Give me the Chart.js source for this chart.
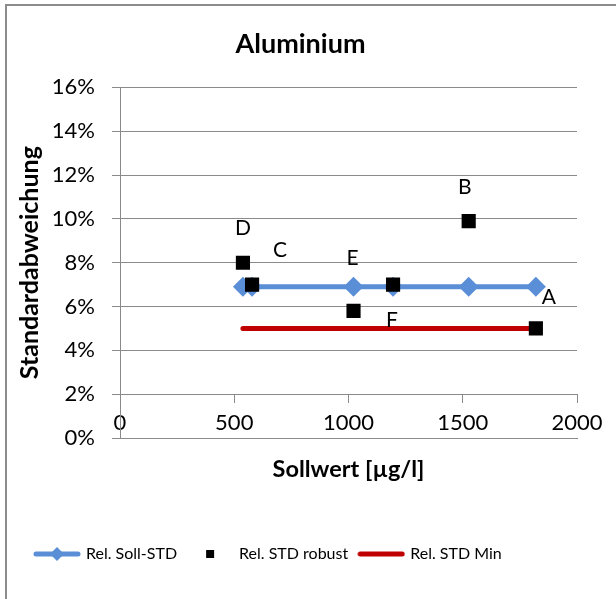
<!DOCTYPE html>
<html>
<head>
<meta charset="utf-8">
<script src="https://cdn.jsdelivr.net/npm/chart.js@4/dist/chart.umd.min.js"></script>
<style>
  body { margin: 0; background: #fff; }
  #wrap { position: relative; width: 616px; height: 599px; }
  #frame { position: absolute; left: 5px; top: 4px; width: 700px; height: 700px;
           border-left: 2px solid #8c8c8c; border-top: 2px solid #8c8c8c; pointer-events: none; }
</style>
</head>
<body>
<div id="wrap">
  <canvas id="chart" width="616" height="599"></canvas>
  <div id="frame"></div>
</div>
<script>
// values
const sollwert = [538, 578, 1022, 1195, 1526, 1820];           // x, µg/l
const relSollStd = [0.069, 0.069, 0.069, 0.069, 0.069, 0.069];
const relStdRobust = [0.080, 0.070, 0.058, 0.070, 0.099, 0.050];
const relStdMin = [0.05, 0.05, 0.05, 0.05, 0.05, 0.05];
const pointLabels = ['D', 'C', 'E', 'F', 'B', 'A'];
const xTicks = [0, 500, 1000, 1500, 2000];
const xTickLabels = ['0', '500', '1000', '1500', '2000'];
const yTicks = [0, 0.02, 0.04, 0.06, 0.08, 0.10, 0.12, 0.14, 0.16];
const yTickLabels = ['0%', '2%', '4%', '6%', '8%', '10%', '12%', '14%', '16%'];

const BLUE = '#5a8ed6';
const RED = '#c00000';
const GRID = '#8a8a8a';
const FONT = 'Lato, "Open Sans", sans-serif';

// pixel nudges of the letter labels (they were dragged around in the original)
const labelOffsets = [[0, -34], [28, -34], [-1, -53], [-1, 36], [-4, -34], [13, -31]];

function toXY(ys) {
    return sollwert.map((x, i) => ({ x: x, y: ys[i] }));
}

// legend icons
function makeIcon(kind) {
    const c = document.createElement('canvas');
    c.width = 48; c.height = 20;
    const g = c.getContext('2d');
    if (kind === 'soll') {
        g.strokeStyle = BLUE; g.lineWidth = 5; g.lineCap = 'round';
        g.beginPath(); g.moveTo(3, 10); g.lineTo(45, 10); g.stroke();
        g.fillStyle = BLUE;
        g.beginPath(); g.moveTo(24, 3); g.lineTo(31, 10); g.lineTo(24, 17); g.lineTo(17, 10); g.closePath(); g.fill();
    } else if (kind === 'robust') {
        g.fillStyle = '#000';
        g.fillRect(20, 6, 8, 8);
    } else {
        g.strokeStyle = RED; g.lineWidth = 5; g.lineCap = 'round';
        g.beginPath(); g.moveTo(3, 10); g.lineTo(45, 10); g.stroke();
    }
    return c;
}
const icons = [makeIcon('soll'), makeIcon('robust'), makeIcon('min')];

const letterPlugin = {
    id: 'letters',
    afterDatasetsDraw(chart) {
        const meta = chart.getDatasetMeta(1);
        const ctx = chart.ctx;
        ctx.save();
        ctx.font = '21px ' + FONT;
        ctx.fillStyle = '#000';
        ctx.textAlign = 'center';
        ctx.textBaseline = 'middle';
        meta.data.forEach((pt, i) => {
            ctx.fillText(pointLabels[i], pt.x + labelOffsets[i][0], pt.y + labelOffsets[i][1]);
        });
        ctx.restore();
    }
};

new Chart(document.getElementById('chart'), {
    type: 'scatter',
    data: {
        datasets: [{
            label: 'Rel. Soll-STD',
            data: toXY(relSollStd),
            showLine: true,
            borderColor: BLUE,
            backgroundColor: BLUE,
            borderWidth: 5,
            borderCapStyle: 'round',
            pointStyle: 'rectRot',
            pointRadius: 10,
            pointBorderWidth: 0,
            order: 2
        }, {
            label: 'Rel. STD robust',
            data: toXY(relStdRobust),
            showLine: false,
            backgroundColor: '#000',
            borderColor: '#000',
            pointStyle: 'rect',
            pointRadius: 10,
            pointBorderWidth: 0,
            order: 1
        }, {
            label: 'Rel. STD Min',
            data: toXY(relStdMin),
            showLine: true,
            borderColor: RED,
            backgroundColor: RED,
            borderWidth: 5,
            borderCapStyle: 'round',
            pointRadius: 0,
            order: 3
        }]
    },
    options: {
        responsive: false,
        animation: false,
        layout: { padding: { left: 24, right: 39, top: 0, bottom: 27 } },
        plugins: {
            title: {
                display: true,
                text: 'Aluminium',
                color: '#000',
                font: { family: FONT, size: 27, weight: 'bold' },
                padding: { top: 28, bottom: 27 }
            },
            legend: {
                position: 'bottom',
                align: 'start',
                labels: {
                    color: '#000',
                    font: { family: FONT, size: 16 },
                    usePointStyle: true,
                    pointStyleWidth: 42,
                    padding: 12,
                    generateLabels(chart) {
                        return chart.data.datasets.map((ds, i) => ({
                            text: ds.label,
                            pointStyle: icons[i],
                            fontColor: '#000',
                            datasetIndex: i,
                            hidden: false,
                            lineWidth: 0
                        }));
                    }
                }
            },
            tooltip: { enabled: false }
        },
        scales: {
            x: {
                type: 'linear',
                min: 0, max: 2000,
                afterBuildTicks(s) { s.ticks = xTicks.map(v => ({ value: v })); },
                afterFit(s) { s.height = 96; },
                grid: { display: false },
                border: { color: GRID, width: 1 },
                ticks: {
                    color: '#000',
                    font: { family: FONT, size: 22 },
                    mirror: true,
                    padding: 2,
                    maxRotation: 0,
                    callback: (v, i) => xTickLabels[i]
                },
                title: {
                    display: true,
                    text: 'Sollwert [µg/l]',
                    color: '#000',
                    font: { family: FONT, size: 23.5, weight: 'bold' },
                    padding: { top: 0, bottom: 50 }
                }
            },
            x2: {
                type: 'linear',
                position: { y: 0.02 },
                min: 0, max: 2000,
                afterBuildTicks(s) { s.ticks = xTicks.map(v => ({ value: v })); },
                grid: { drawOnChartArea: false, color: GRID, tickLength: 8 },
                border: { color: GRID, width: 1 },
                ticks: { display: false }
            },
            y: {
                type: 'linear',
                min: 0, max: 0.16,
                afterBuildTicks(s) { s.ticks = yTicks.map(v => ({ value: v })); },
                afterFit(s) { s.width = 96; },
                grid: { color: GRID, tickLength: 8 },
                border: { color: GRID, width: 1 },
                ticks: {
                    color: '#000',
                    font: { family: FONT, size: 22 },
                    padding: 17,
                    callback: (v, i) => yTickLabels[i]
                },
                title: {
                    display: true,
                    text: 'Standardabweichung',
                    color: '#000',
                    font: { family: FONT, size: 25, weight: 'bold' },
                    padding: { top: -9, bottom: 0 }
                }
            }
        }
    },
    plugins: [letterPlugin]
});
</script>
</body>
</html>
